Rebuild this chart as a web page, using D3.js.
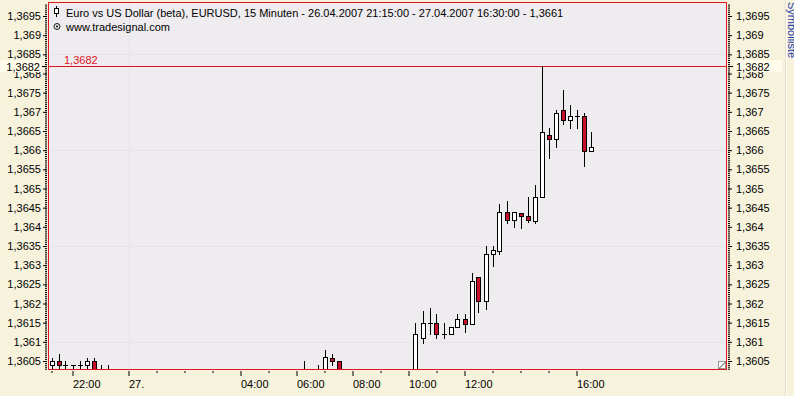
<!DOCTYPE html>
<html><head><meta charset="utf-8">
<script src="https://cdn.jsdelivr.net/npm/d3@7"></script>
<style>
html,body{margin:0;padding:0;background:#F6F2DC;overflow:hidden}
svg{display:block;font-family:"Liberation Sans",Arial,sans-serif}
</style>
</head><body>
<svg id="c" width="794" height="396"></svg>
<script>
// ---- data (15-minute EURUSD bars, visible part) ----
const times = [
 "2007-04-26 21:15","2007-04-26 21:30","2007-04-26 21:45","2007-04-26 22:00","2007-04-26 22:15",
 "2007-04-26 22:30","2007-04-26 22:45","2007-04-26 23:00","2007-04-26 23:15",
 "2007-04-27 06:15","2007-04-27 06:45","2007-04-27 07:00","2007-04-27 07:15","2007-04-27 07:30","2007-04-27 07:45",
 "2007-04-27 10:15","2007-04-27 10:30","2007-04-27 10:45","2007-04-27 11:00","2007-04-27 11:15",
 "2007-04-27 11:30","2007-04-27 11:45","2007-04-27 12:00","2007-04-27 12:15","2007-04-27 12:30",
 "2007-04-27 12:45","2007-04-27 13:00","2007-04-27 13:15","2007-04-27 13:30","2007-04-27 13:45",
 "2007-04-27 14:00","2007-04-27 14:15","2007-04-27 14:30","2007-04-27 14:45","2007-04-27 15:00",
 "2007-04-27 15:15","2007-04-27 15:30","2007-04-27 15:45","2007-04-27 16:00","2007-04-27 16:15",
 "2007-04-27 16:30"
];
const open = [
 1.36039,1.36049,1.36039,1.36039,1.36039,
 1.36039,1.36049,1.36028,1.36015,
 1.36015,1.36028,1.36028,1.36059,1.36049,1.36028,
 1.36000,1.36109,1.36148,1.36148,1.36120,
 1.36120,1.36139,1.36159,1.36147,1.36268,
 1.36207,1.36328,1.36338,1.36438,1.36418,
 1.36437,1.36428,1.36416,1.36478,1.36639,
 1.36628,1.36706,1.36678,1.36688,1.36688,
 1.36597
];
const high = [
 1.36059,1.36067,1.36049,1.36039,1.36049,
 1.36059,1.36059,1.36039,1.36039,
 1.36049,1.36039,1.36078,1.36067,1.36049,1.36030,
 1.36148,1.36180,1.36189,1.36172,1.36148,
 1.36139,1.36172,1.36172,1.36280,1.36268,
 1.36349,1.36349,1.36460,1.36468,1.36438,
 1.36437,1.36479,1.36509,1.36820,1.36657,
 1.36706,1.36757,1.36719,1.36706,1.36696,
 1.36647
];
const low = [
 1.36027,1.36027,1.36027,1.36027,1.36027,
 1.36027,1.36015,1.36020,1.36010,
 1.36010,1.36020,1.36020,1.36039,1.36010,1.36026,
 1.35990,1.36098,1.36120,1.36109,1.36109,
 1.36120,1.36139,1.36126,1.36147,1.36179,
 1.36186,1.36298,1.36329,1.36409,1.36399,
 1.36398,1.36413,1.36409,1.36478,1.36579,
 1.36608,1.36668,1.36657,1.36657,1.36558,
 1.36597
];
const close = [
 1.36049,1.36039,1.36039,1.36039,1.36039,
 1.36049,1.36020,1.36028,1.36015,
 1.36015,1.36028,1.36060,1.36049,1.36015,1.36028,
 1.36120,1.36148,1.36148,1.36120,1.36120,
 1.36139,1.36159,1.36147,1.36259,1.36207,
 1.36328,1.36339,1.36438,1.36418,1.36438,
 1.36428,1.36417,1.36478,1.36647,1.36628,
 1.36696,1.36678,1.36688,1.36688,1.36597,
 1.36608
];
const yTickValues = [1.3605,1.361,1.3615,1.362,1.3625,1.363,1.3635,1.364,1.3645,1.365,1.3655,1.366,1.3665,1.367,1.3675,1.368,1.3685,1.369,1.3695];
const gridPrices = [1.361,1.3635,1.366,1.3685];
const xMajorTimes = ["2007-04-26 22:00","2007-04-27 00:00","2007-04-27 04:00","2007-04-27 06:00","2007-04-27 08:00","2007-04-27 10:00","2007-04-27 12:00","2007-04-27 16:00"];
const xMajorLabels = ["22:00","27.","04:00","06:00","08:00","10:00","12:00","16:00"];
const xMinorTimes = ["2007-04-26 21:15","2007-04-27 01:00","2007-04-27 02:00","2007-04-27 03:00","2007-04-27 05:00","2007-04-27 07:00","2007-04-27 09:00","2007-04-27 11:00","2007-04-27 13:00","2007-04-27 14:00","2007-04-27 15:00"];
const gridTimes = ["2007-04-27 00:00"];
const refLevel = 1.3682;
const titleText = "Euro vs US Dollar (beta), EURUSD, 15 Minuten - 26.04.2007 21:15:00 - 27.04.2007 16:30:00 - 1,3661";
const subText = "www.tradesignal.com";
const sideText = "Symbolliste";

// ---- layout ----
const W = 794, H = 396;
const P = {l:48, r:726, t:3, b:370};
const RED = "#E0141E", CANDLE_RED = "#C8102A", PLOT_BG = "#EFECEF";
const parse = d3.timeParse("%Y-%m-%d %H:%M");
const fmtP = v => String(+v.toFixed(4)).replace(".", ",");

const x = d3.scaleTime()
  .domain([parse("2007-04-26 22:00"), parse("2007-04-27 10:00")])
  .range([72.5, 408.5]);
const y = d3.scaleLinear().domain([1.3605, 1.3695]).range([361, 16]);

const svg = d3.select("#c");
svg.append("rect").attr("width", W).attr("height", H).attr("fill", "#F6F2DC");

// right side strip
svg.append("line").attr("x1", 786.5).attr("x2", 786.5).attr("y1", 0).attr("y2", H)
  .attr("stroke", "#FFFFFF");
svg.append("line").attr("x1", 785.5).attr("x2", 785.5).attr("y1", 0).attr("y2", H)
  .attr("stroke", "#E4DFC8");
svg.append("text").attr("transform", "translate(788,2) rotate(90)")
  .attr("font-size", 11).attr("fill", "#1E3CA8").text(sideText);

// plot background
svg.append("rect").attr("x", P.l).attr("y", P.t).attr("width", P.r - P.l).attr("height", P.b - P.t)
  .attr("fill", PLOT_BG);

const defs = svg.append("defs");
defs.append("clipPath").attr("id", "clip").append("rect")
  .attr("x", P.l + 1).attr("y", P.t + 1).attr("width", P.r - P.l - 1).attr("height", P.b - P.t - 1);

const plot = svg.append("g").attr("clip-path", "url(#clip)");

// faint grid
plot.selectAll("line.gx").data(gridTimes).join("line")
  .attr("x1", d => Math.round(x(parse(d))) + 0.5).attr("x2", d => Math.round(x(parse(d))) + 0.5)
  .attr("y1", P.t).attr("y2", P.b).attr("stroke", "#E6E2E6");
plot.selectAll("line.gy").data(gridPrices).join("line")
  .attr("x1", P.l).attr("x2", P.r)
  .attr("y1", d => Math.round(y(d)) + 0.5).attr("y2", d => Math.round(y(d)) + 0.5)
  .attr("stroke", "#E6E2E6");

// reference line
const yRef = Math.round(y(refLevel)) + 0.5;
plot.append("line").attr("x1", P.l).attr("x2", P.r).attr("y1", yRef).attr("y2", yRef)
  .attr("stroke", RED).attr("stroke-width", 1);
svg.append("text").attr("x", 64).attr("y", yRef - 2.5).attr("font-size", 11)
  .attr("fill", RED).text(fmtP(refLevel));

// candles
const bars = times.map((t, i) => ({t: parse(t), o: open[i], h: high[i], l: low[i], c: close[i]}));
const g = plot.selectAll("g.bar").data(bars).join("g").attr("class", "bar");
g.append("line")
  .attr("x1", d => Math.round(x(d.t)) + 0.5).attr("x2", d => Math.round(x(d.t)) + 0.5)
  .attr("y1", d => Math.round(y(d.h))).attr("y2", d => Math.round(y(d.l)) + 1)
  .attr("stroke", "#000");
g.each(function(d) {
  const cx = Math.round(x(d.t)) + 0.5;
  const yT = Math.round(y(Math.max(d.o, d.c))), yB = Math.round(y(Math.min(d.o, d.c)));
  const sel = d3.select(this);
  if (yB - yT < 1) {
    sel.append("line").attr("x1", cx - 2.5).attr("x2", cx + 2.5)
      .attr("y1", yT + 0.5).attr("y2", yT + 0.5).attr("stroke", "#000");
  } else {
    sel.append("rect").attr("x", cx - 2).attr("y", yT + 0.5).attr("width", 4).attr("height", yB - yT)
      .attr("fill", d.c >= d.o ? "#FFFFFF" : CANDLE_RED).attr("stroke", "#000");
  }
});

// border
svg.append("rect").attr("x", P.l + 0.5).attr("y", P.t - 0.5).attr("width", P.r - P.l).attr("height", P.b - P.t)
  .attr("fill", "none").attr("stroke", RED);

// resize glyph
svg.append("rect").attr("x", 718.5).attr("y", 361.5).attr("width", 7).attr("height", 7)
  .attr("fill", "#FFFFFF").attr("stroke", "#9A9A9A");
svg.append("line").attr("x1", 719).attr("y1", 368.5).attr("x2", 725.5).attr("y2", 362)
  .attr("stroke", "#404040");

// title
const ic = svg.append("g");
ic.append("line").attr("x1", 56.5).attr("x2", 56.5).attr("y1", 6).attr("y2", 17).attr("stroke", "#000");
ic.append("rect").attr("x", 54.5).attr("y", 8.5).attr("width", 4).attr("height", 5).attr("fill", "#fff").attr("stroke", "#000");
svg.append("text").attr("x", 66).attr("y", 17).attr("font-size", 11).attr("fill", "#000").text(titleText);
svg.append("circle").attr("cx", 57).attr("cy", 26.5).attr("r", 3).attr("fill", "none").attr("stroke", "#000").attr("stroke-width", 0.9);
svg.append("circle").attr("cx", 57).attr("cy", 26.5).attr("r", 1).attr("fill", "#000");
svg.append("text").attr("x", 66).attr("y", 31).attr("font-size", 11).attr("fill", "#000").text(subText);

// y axes
const minorY = d3.range(1.36030, 1.36985, 0.00005);
const styleAxis = sel => {
  sel.select(".domain").remove();
  sel.selectAll("line").attr("stroke", "#000");
  sel.selectAll("text").attr("font-size", 11).attr("fill", "#000").attr("font-family", "Liberation Sans, Arial, sans-serif");
};
svg.append("g").attr("transform", "translate(47,0)")
  .call(d3.axisLeft(y).tickValues(minorY).tickSize(2).tickFormat(""))
  .call(s => { s.select(".domain").remove(); s.selectAll("line").attr("stroke", "#000"); });
svg.append("g").attr("transform", "translate(47,0)")
  .call(d3.axisLeft(y).tickValues(yTickValues).tickSize(4).tickPadding(2).tickFormat(fmtP))
  .call(styleAxis);
svg.append("g").attr("transform", "translate(728,0)")
  .call(d3.axisRight(y).tickValues(minorY).tickSize(2).tickFormat(""))
  .call(s => { s.select(".domain").remove(); s.selectAll("line").attr("stroke", "#000"); });
svg.append("g").attr("transform", "translate(728,0)")
  .call(d3.axisRight(y).tickValues(yTickValues).tickSize(4).tickPadding(4).tickFormat(fmtP))
  .call(styleAxis);

// highlighted reference labels on axes
const hl = (bx, bw, tx, anchor) => {
  svg.append("rect").attr("x", bx).attr("y", yRef - 6.5).attr("width", bw).attr("height", 12).attr("fill", "#FFFCEC");
  svg.append("line").attr("x1", anchor === "end" ? 42 : 728).attr("x2", anchor === "end" ? 47 : 733)
    .attr("y1", yRef).attr("y2", yRef).attr("stroke", "#000");
  svg.append("text").attr("x", tx).attr("y", yRef + 4).attr("font-size", 11).attr("text-anchor", anchor)
    .attr("fill", "#000").text(fmtP(refLevel));
};
hl(0, 41, 40, "end");
hl(735, 47, 736, "start");

// x axis
const xAxisMinor = svg.append("g").attr("transform", `translate(0,${P.b + 1})`)
  .call(d3.axisBottom(x).tickValues(xMinorTimes.map(parse)).tickSize(2).tickFormat(""));
xAxisMinor.select(".domain").remove();
xAxisMinor.selectAll("line").attr("stroke", "#000")
  .attr("transform", function() { return this.parentNode.getAttribute("transform"); });
const xAxis = svg.append("g").attr("transform", `translate(0,${P.b + 1})`)
  .call(d3.axisBottom(x).tickValues(xMajorTimes.map(parse)).tickSize(5).tickPadding(4)
    .tickFormat((d, i) => xMajorLabels[i]));
xAxis.select(".domain").remove();
xAxis.selectAll("line").attr("stroke", "#000");
xAxis.selectAll("text").attr("text-anchor", "start").attr("x", 0).attr("font-size", 11)
  .attr("fill", "#000").attr("font-family", "Liberation Sans, Arial, sans-serif");
// fix minor tick transforms (remove doubled transform)
xAxisMinor.selectAll("line").attr("transform", null);
</script>
</body></html>
